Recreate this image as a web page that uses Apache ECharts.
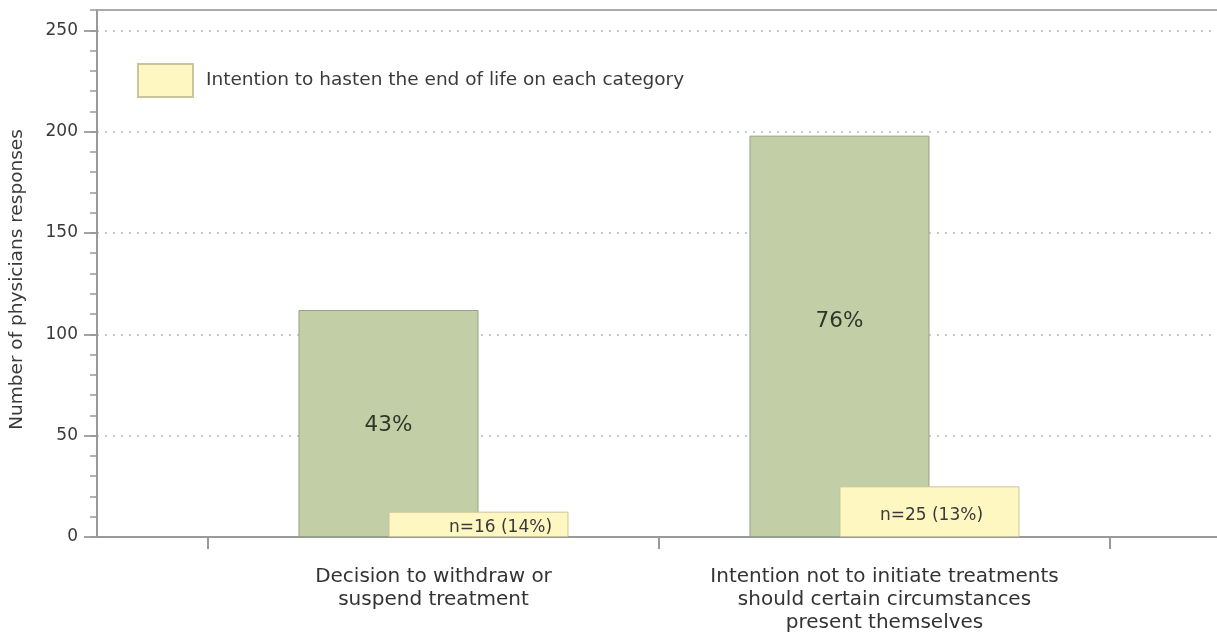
<!DOCTYPE html>
<html>
<head>
<meta charset="utf-8">
<script src="https://cdn.jsdelivr.net/npm/echarts@6/dist/echarts.min.js"></script>
<style>html,body{margin:0;padding:0;background:#fff}#c{width:1217px;height:637px}</style>
</head>
<body>
<div id="c"></div>
<script>
const categories = ['Decision to withdraw or\nsuspend treatment', 'Intention not to initiate treatments\nshould certain circumstances\npresent themselves'];
const totalResponses = [112, 198];
const totalLabels = ['43%', '76%'];
const hastenResponses = [12.5, 25];
const hastenLabels = ['n=16 (14%)', 'n=25 (13%)'];
const yTicks = [0, 50, 100, 150, 200, 250];
const legendName = 'Intention to hasten the end of life on each category';

const font = 'DejaVu Sans, Liberation Sans, sans-serif';
const chart = echarts.init(document.getElementById('c'), null, {renderer: 'canvas'});
const pos = categories.map((c, i) => i + 0.5);

chart.setOption({
  animation: false,
  textStyle: {fontFamily: font},
  grid: {left: 97, right: 0, top: 10, bottom: 100},
  legend: {
    data: [legendName], left: 132, top: 58, itemWidth: 55, itemHeight: 33, icon: 'rect',
    textStyle: {fontSize: 18.5, color: '#3a3a3a', fontFamily: font, padding: [2, 0, 0, 8]}
  },
  xAxis: [{
    type: 'value', min: -0.2461, max: 2.2373,
    axisLine: {show: true, onZero: false, lineStyle: {color: '#999', width: 2}},
    axisTick: {show: true, customValues: [0, 1, 2], length: 12, lineStyle: {color: '#999', width: 2}},
    axisLabel: {
      customValues: pos, color: '#333', fontSize: 20, lineHeight: 23, margin: 28,
      formatter: v => categories[Math.round(v - 0.5)] || ''
    },
    splitLine: {show: false}
  }, {
    type: 'value', position: 'top', min: 0, max: 1,
    axisLine: {show: true, onZero: false, lineStyle: {color: '#aaa', width: 2}},
    axisTick: {show: false}, axisLabel: {show: false}, splitLine: {show: false}
  }],
  yAxis: [{
    type: 'value', min: 0, max: 260, interval: 50,
    name: 'Number of physicians responses', nameLocation: 'middle', nameGap: 70,
    nameTextStyle: {fontSize: 18.5, color: '#3a3a3a', fontFamily: font, padding: [0, 12, 0, 0]},
    axisLine: {show: true, onZero: false, lineStyle: {color: '#999', width: 2}},
    axisTick: {show: true, customValues: yTicks, length: 13, lineStyle: {color: '#888', width: 1.5}},
    axisLabel: {customValues: yTicks, color: '#3a3a3a', fontSize: 17, margin: 19},
    splitLine: {show: true, lineStyle: {color: '#bbb', type: [2, 6], width: 1.5}}
  }, {
    type: 'value', min: 0, max: 260, interval: 10, position: 'left',
    axisLine: {show: false, onZero: false}, axisLabel: {show: false}, splitLine: {show: false},
    axisTick: {show: true, length: 7, lineStyle: {color: '#999', width: 1.5}}
  }],
  series: [{
    name: 'Total', type: 'bar', barWidth: 180, barGap: '-50%',
    data: pos.map((p, i) => ({
      value: [p, totalResponses[i]],
      label: {offset: i === 1 ? [0, -15] : [0, 2]}
    })),
    itemStyle: {color: '#c2cfa6', borderColor: '#96a384', borderWidth: 1},
    label: {show: true, position: 'inside', fontSize: 21.5, color: '#30352a', fontFamily: font,
      formatter: p => totalLabels[p.dataIndex]}
  }, {
    name: legendName, type: 'bar', barWidth: 180, barGap: '-50%',
    data: pos.map((p, i) => ({
      value: [p, hastenResponses[i]],
      label: {offset: i === 0 ? [22, 3] : [2, 4]}
    })),
    itemStyle: {color: '#fef7c2', borderColor: '#cbc39b', borderWidth: 1},
    label: {show: true, position: 'inside', fontSize: 17, color: '#3a3a3a', fontFamily: font,
      formatter: p => hastenLabels[p.dataIndex]}
  }]
});
</script>
</body>
</html>
